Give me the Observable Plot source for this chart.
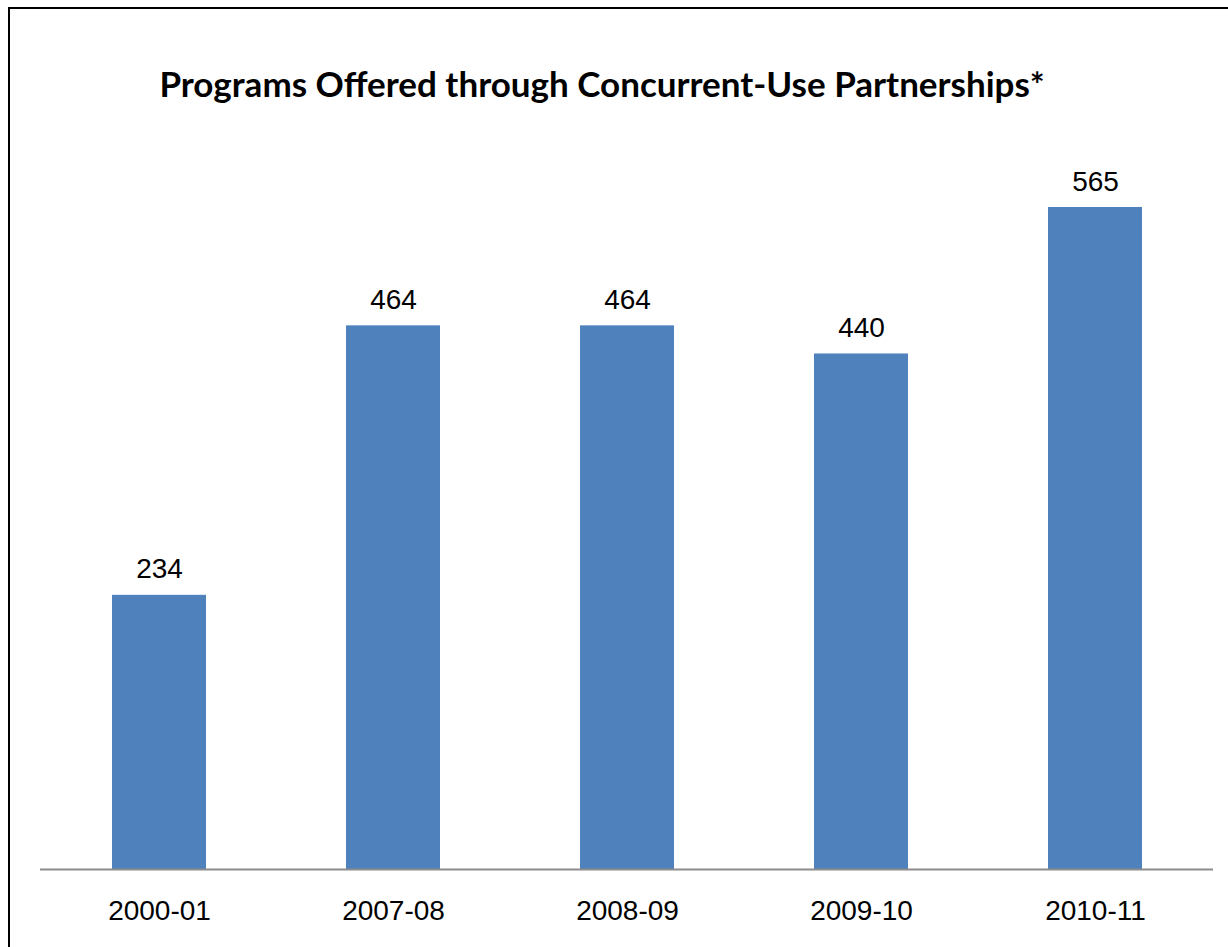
<!DOCTYPE html>
<html>
<head>
<meta charset="utf-8">
<script src="https://cdn.jsdelivr.net/npm/d3@7"></script>
<script src="https://cdn.jsdelivr.net/npm/@observablehq/plot@0.6"></script>
<style>
  html, body { margin: 0; padding: 0; background: #fff; }
  body { width: 1228px; height: 947px; overflow: hidden; position: relative; }
  #frame { position: absolute; left: 8px; top: 7px; width: 1240px; height: 960px;
           border-left: 2px solid #000; border-top: 2px solid #000; box-sizing: border-box; pointer-events: none; }
  #title { position: relative; height: 140px; width: 1228px; }
  #title span { position: absolute; left: 0; width: 1204px; text-align: center; top: 66px;
                font-family: Lato, "Open Sans", sans-serif; font-weight: bold; font-size: 35px; line-height: 1; color: #000; }
  #chart svg { display: block; }
</style>
</head>
<body>
<div id="title"><span>Programs Offered through Concurrent-Use Partnerships*</span></div>
<div id="chart"></div>
<div id="frame"></div>
<script>
const years = ["2000-01", "2007-08", "2008-09", "2009-10", "2010-11"];
const programs = [234, 464, 464, 440, 565];

const data = years.map((y, i) => ({year: y, value: programs[i]}));

const chart = Plot.plot({
  width: 1228,
  height: 807,
  marginLeft: 40,
  marginRight: 15,
  marginTop: 26,
  marginBottom: 78,
  style: {fontFamily: '"Liberation Sans", Arial, sans-serif', fontSize: "28px", background: "#fff", color: "#000"},
  x: {domain: years, paddingInner: 0.6, paddingOuter: 0.3, label: null},
  y: {domain: [0, 600], axis: null},
  marks: [
    Plot.barY(data, {x: "year", y: "value", fill: "#4F81BD"}),
    Plot.ruleY([0], {stroke: "#8c8c8c", strokeWidth: 2}),
    Plot.axisX({tickSize: 0, tickPadding: 31, fontSize: 28, label: null}),
    Plot.text(data, {x: "year", y: "value", text: d => String(d.value), lineAnchor: "bottom", dy: -17, fontSize: 28, fill: "#000"})
  ]
});
document.getElementById("chart").appendChild(chart);
</script>
</body>
</html>
